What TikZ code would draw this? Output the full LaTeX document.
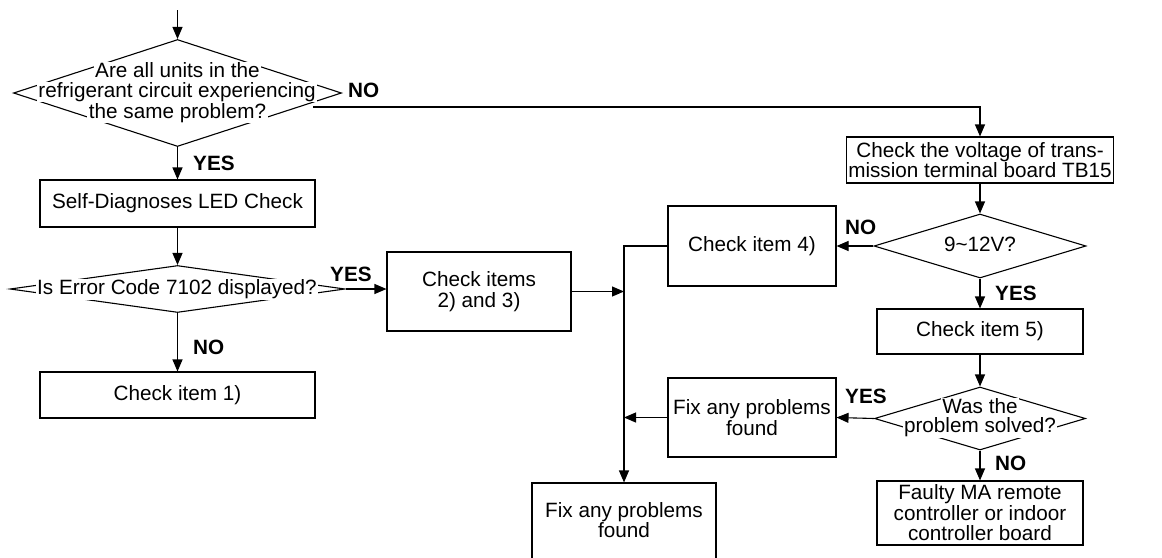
\documentclass[tikz,border=0pt]{standalone}
\usepackage{fontspec}
\setmainfont{Liberation Sans}
\usetikzlibrary{arrows.meta,shapes.geometric}
\begin{document}
\begin{tikzpicture}[x=1pt,y=-1pt,
 every node/.style={font=\fontsize{20.7}{20.5}\selectfont},
 box/.style={draw, line width=1.1pt, inner sep=0, align=center},
 dia/.style={draw, diamond, line width=1.1pt, inner sep=0},
 txt/.style={fill=white, inner xsep=1.5pt, inner ysep=0.5pt, text height=15pt, text depth=4.5pt},
 lbl/.style={font=\fontsize{20.7}{20.5}\selectfont\bfseries, inner sep=0, anchor=west},
 arr/.style={line width=1.1pt, -{Triangle[length=12pt,width=10pt]}}]
\useasboundingbox (0,0) rectangle (1162,557);
\clip (0,0) rectangle (1162,557);
\coordinate (top) at (177.5,10);
\node[dia, minimum width=328, minimum height=107] (q1) at (177.5,93) {};
\node[txt] (q1a) at (177.5,72) {Are all units in the};
\node[txt] (q1b) at (177,92) {refrigerant circuit experiencing};
\node[txt] (q1c) at (177.5,113) {the same problem?};
\node[lbl] (no1) at (348,90) {NO};
\coordinate (nostart) at (313,107);
\node[box, minimum width=275, minimum height=47] (sd) at (177.5,203.5) {Self-Diagnoses LED Check};
\node[lbl] (yes1) at (193,163) {YES};
\node[dia, minimum width=335, minimum height=47] (q2) at (177.5,289) {};
\node[txt] (q2t) at (177,289.5) {Is Error Code 7102 displayed?};
\node[lbl] (yes2) at (330,274) {YES};
\node[lbl] (no2) at (193,347) {NO};
\node[box, minimum width=275, minimum height=46] (c1) at (177.5,395) {Check item 1)};
\node[box, minimum width=184, minimum height=79] (c23) at (479,291.5) {Check items\\2) and 3)};
\coordinate (bus) at (624,246);
\node[box, minimum width=267, minimum height=46] (tb) at (980,160) {Check the voltage of trans-\\mission terminal board TB15};
\node[dia, minimum width=212, minimum height=64] (q3) at (980,246) {};
\node[txt] (q3t) at (980,246.5) {9\textasciitilde12V?};
\node[lbl] (no3) at (845,227) {NO};
\node[box, minimum width=168, minimum height=80] (c4) at (752,246) {Check item 4)};
\node[lbl] (yes3) at (995,293) {YES};
\node[box, minimum width=206, minimum height=45] (c5) at (980,331.5) {Check item 5)};
\node[dia, minimum width=211, minimum height=63] (q4) at (980,418.5) {};
\node[txt] (q4a) at (980,408) {Was the};
\node[txt] (q4b) at (980,427.5) {problem solved?};
\node[lbl] (yes4) at (845,396) {YES};
\node[lbl] (no4) at (995,463) {NO};
\node[box, minimum width=168, minimum height=79] (fx1) at (752,417.5) {Fix any problems\\found};
\node[box, minimum width=206, minimum height=64] (fault) at (980,513) {Faulty MA remote\\controller or indoor\\controller board};
\node[box, minimum width=184, minimum height=100] (fx2) at (624,533) {};
\node[align=center, inner sep=0] (fx2t) at (624,520) {Fix any problems\\found};
% connectors
\draw[arr] (top) -- (q1.north);
\draw[arr] (q1.south) -- (sd.north);
\draw[arr] (sd.south) -- (q2.north);
\draw[arr] (q2.south) -- (c1.north);
\draw[arr] (q2.east) -- (q2.east -| c23.west);
\draw[arr] (c23.east) -- (c23.east -| bus);
\draw[arr] (nostart) -| (tb.north);
\draw[arr] (tb.south) -- (q3.north);
\draw[arr] (q3.west) -- (c4.east);
\draw[arr] (c4.west) -| (fx2.north);
\draw[arr] (q3.south) -- (c5.north);
\draw[arr] (c5.south) -- (q4.north);
\draw[arr] (q4.west) -- (fx1.east);
\draw[arr] (fx1.west) -- (fx1.west -| fx2.north);
\draw[arr] (q4.south) -- (fault.north);
\end{tikzpicture}
\end{document}
